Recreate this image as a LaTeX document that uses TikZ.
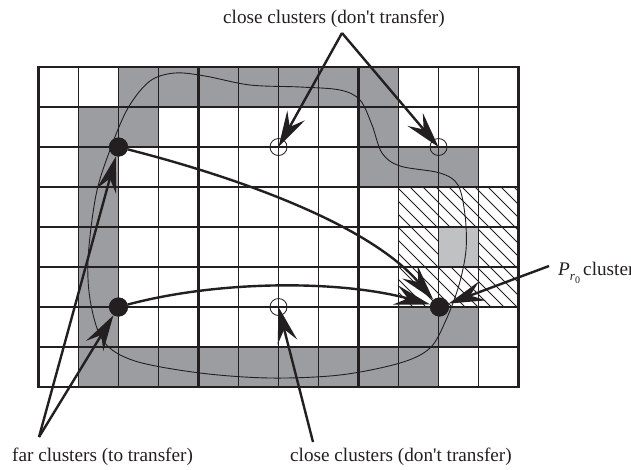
\documentclass[tikz,border=0pt]{standalone}
\usepackage{fontspec}
\setmainfont{Liberation Serif}
\usetikzlibrary{arrows.meta}
\definecolor{ink}{RGB}{35,31,32}
\definecolor{cellgray}{RGB}{156,157,160}
\definecolor{lightcell}{RGB}{192,193,195}
\begin{document}
\begin{tikzpicture}[x=1pt,y=-1pt,
  thingrid/.style={line width=1.2pt, draw=ink},
  thickgrid/.style={line width=2.3pt, draw=ink},
  hatchline/.style={line width=0.8pt, draw=ink},
  boundary/.style={line width=0.9pt, draw=ink},
  arr/.style={line width=2.4pt, draw=ink, -{Stealth[length=36pt,width=20pt,inset=13pt]}},
  bigdot/.style={circle, fill=ink, inner sep=0pt, minimum size=19pt},
  opendot/.style={circle, draw=ink, line width=0.8pt, inner sep=0pt, minimum size=17pt},
  lbl/.style={inner sep=0pt, font=\fontsize{19.2}{23}\selectfont, text=ink}]
\useasboundingbox (0,0) rectangle (631,469);
\fill[white] (0,0) rectangle (631,469);
% dark gray cells (col,row)
\foreach \c/\r in {2/0,3/0,4/0,5/0,6/0,7/0,8/0,
                   1/1,2/1,8/1,
                   1/2,8/2,9/2,10/2,
                   1/3,1/4,1/5,
                   1/6,9/6,10/6,
                   1/7,2/7,3/7,4/7,5/7,6/7,7/7,8/7,9/7}
  \fill[cellgray] ({38.5+40*\c},{67+40*\r}) rectangle +(40,40);
% hatching
\begin{scope}
  \clip (398.5,187) rectangle (518.5,307);
  \foreach \k in {-340,-327,...,-80}
    \draw[hatchline] (380,{380+\k}) -- (540,{540+\k});
\end{scope}
\fill[lightcell] (438.5,227) rectangle +(40,40);
% grid
\foreach \i in {1,2,3,5,6,7,9,10,11}
  \draw[thingrid] ({38.5+40*\i},67) -- ({38.5+40*\i},387);
\foreach \j in {1,2,3,5,6,7}
  \draw[thingrid] (38.5,{67+40*\j}) -- (518.5,{67+40*\j});
\draw[thickgrid] (198.5,67) -- (198.5,387);
\draw[thickgrid] (358.5,67) -- (358.5,387);
\draw[thickgrid] (38.5,227) -- (518.5,227);
\draw[line width=2.6pt, draw=ink] (38.5,67) rectangle (518.5,387);
% boundary curve
\draw[boundary] plot[smooth cycle, tension=0.55] coordinates {
  (88,260) (96,195) (110,150) (128,108) (150,81) (175,73) (205,76) (250,85)
  (300,87) (340,90) (360,100) (372,125) (382,153) (400,166) (440,173)
  (458,185) (465,215) (466,250) (459,285) (446,320) (430,348) (400,363)
  (340,375) (270,378) (200,373) (135,361) (104,342) (91,305)};
% nodes
\node[bigdot] (A) at (118.5,147) {};
\node[bigdot] (B) at (118.5,307) {};
\node[bigdot] (P) at (439.5,307) {};
\node[opendot] (C1) at (278.5,147) {};
\node[opendot] (C2) at (438.5,147) {};
\node[opendot] (C3) at (278.5,307) {};
% labels
\node[lbl, anchor=base west] (toplbl) at (223,23) {close clusters (don\textquotesingle t transfer)};
\node[lbl, anchor=base west] (farlbl) at (12,461) {far clusters (to transfer)};
\node[lbl, anchor=base west] (botlbl) at (290,461) {close clusters (don\textquotesingle t transfer)};
\node[lbl, anchor=base west] (plbl) at (558,275) {\textit{P}\raisebox{-5pt}{\fontsize{13}{13}\selectfont\textit{r}\raisebox{-3.5pt}{\fontsize{10}{10}\selectfont 0}}\,cluster};
\coordinate (topapex) at (342,33);
\coordinate (farapex) at (39,437);
\coordinate (botapex) at (313,442);
\coordinate (papex) at (549,266);
% connectors
\draw[arr] (A) .. controls (240,178) and (370,225) .. (P);
\draw[arr] (B) .. controls (220,280) and (340,280) .. (P);
\draw[arr] (papex) -- (P);
\draw[arr] (topapex) -- (C1.center);
\draw[arr] (topapex) -- (C2.center);
\draw[arr] (botapex) -- (C3.center);
\draw[arr] (farapex) -- (A);
\draw[arr] (farapex) -- (B);
% redraw dots on top
\fill[ink] (A.center) circle (9.5pt);
\fill[ink] (B.center) circle (9.5pt);
\fill[ink] (P.center) circle (9.5pt);
\end{tikzpicture}
\end{document}
